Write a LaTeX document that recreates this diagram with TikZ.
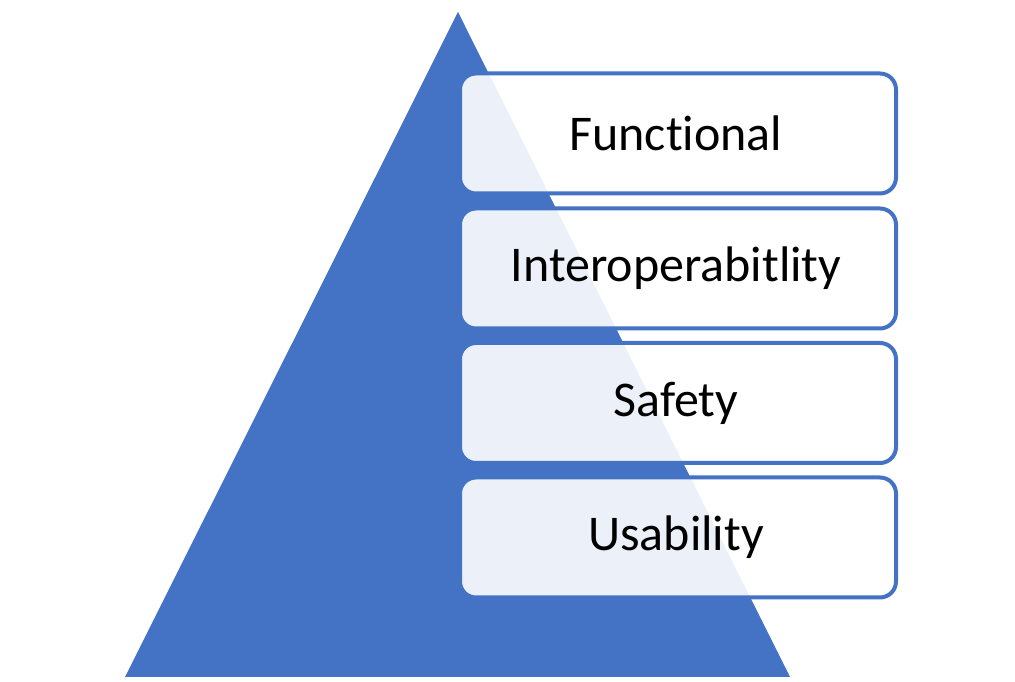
\documentclass[tikz,border=0pt]{standalone}
\usepackage{fontspec}
\setmainfont[Ligatures=NoCommon]{Carlito}
\definecolor{tri}{HTML}{4472C4}
\begin{document}
\begin{tikzpicture}[x=1pt,y=1pt,
  lvl/.style={draw=tri, line width=4pt, rounded corners=16pt, fill=white, fill opacity=0.9, text opacity=1,
    minimum width=436pt, minimum height=120pt, inner sep=0pt, outer sep=0pt, font=\fontsize{50}{58}\selectfont, text=black, anchor=north west}]
\useasboundingbox (0,0) rectangle (1015,682);
\fill[tri] (125,5) coordinate (bl) -- (458,670) coordinate (apex) -- (790,5) coordinate (br) -- cycle;
\node[lvl] (f) at (460,608.5) {\hspace*{-4pt}Functional};
\node[lvl] (i) at (460,473.5) {\hspace*{-4pt}Interoperabitlity};
\node[lvl] (s) at (460,339) {\hspace*{-4pt}Safety};
\node[lvl] (u) at (460,204.5) {\hspace*{-4pt}Usability};
\end{tikzpicture}
\end{document}
